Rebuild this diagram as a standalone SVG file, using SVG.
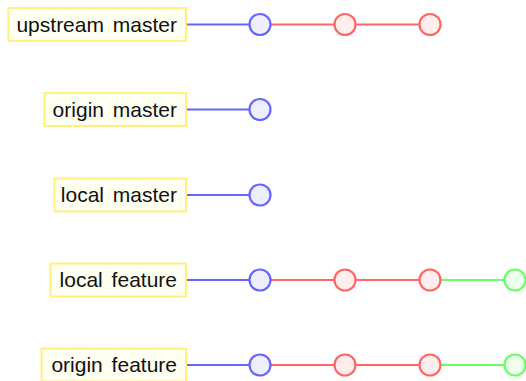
<svg xmlns="http://www.w3.org/2000/svg" width="526" height="381" viewBox="0 0 526 381">
  <style>
    .label rect { fill: #fffff2; stroke: #fff080; stroke-width: 2; }
    .label text { font-family: "Liberation Sans", Arial, sans-serif; font-size: 21px; word-spacing: 3px; fill: #111; text-anchor: end; }
    .edge { stroke-width: 2; fill: none; }
    .blue { stroke: #6666ff; }
    .red { stroke: #ff6666; }
    .green { stroke: #66ff66; }
    .commit { stroke-width: 2.2; }
    .c-blue { fill: #eeeeff; stroke: #6666ff; }
    .c-red { fill: #ffeeee; stroke: #ff6666; }
    .c-green { fill: #eeffee; stroke: #66ff66; }
  </style>

  <!-- connectors: branch label to first commit, then commit to commit -->
  <g id="connectors">
    <line class="edge blue" x1="187" y1="24.5" x2="260" y2="24.5"/>
    <line class="edge red" x1="260" y1="24.5" x2="430" y2="24.5"/>

    <line class="edge blue" x1="187" y1="109.5" x2="260" y2="109.5"/>

    <line class="edge blue" x1="187" y1="195" x2="260" y2="195"/>

    <line class="edge blue" x1="187" y1="280" x2="260" y2="280"/>
    <line class="edge red" x1="260" y1="280" x2="430" y2="280"/>
    <line class="edge green" x1="430" y1="280" x2="515" y2="280"/>

    <line class="edge blue" x1="187" y1="365" x2="260" y2="365"/>
    <line class="edge red" x1="260" y1="365" x2="430" y2="365"/>
    <line class="edge green" x1="430" y1="365" x2="515" y2="365"/>
  </g>

  <!-- branch labels -->
  <g id="upstream-master" class="label">
    <rect x="8.5" y="8" width="177.5" height="33"/>
    <text x="177" y="31.5">upstream master</text>
  </g>
  <g id="origin-master" class="label">
    <rect x="44.5" y="93" width="141.5" height="33"/>
    <text x="177" y="116.5">origin master</text>
  </g>
  <g id="local-master" class="label">
    <rect x="54.5" y="178.5" width="131.5" height="33"/>
    <text x="177" y="202">local master</text>
  </g>
  <g id="local-feature" class="label">
    <rect x="50.5" y="263.5" width="135.5" height="33"/>
    <text x="177" y="287">local feature</text>
  </g>
  <g id="origin-feature" class="label">
    <rect x="41.5" y="348.5" width="144.5" height="33"/>
    <text x="177" y="372">origin feature</text>
  </g>

  <!-- commits -->
  <g id="upstream-master-commits">
    <circle class="commit c-blue" cx="260" cy="24.5" r="10.5"/>
    <circle class="commit c-red" cx="345" cy="24.5" r="10.5"/>
    <circle class="commit c-red" cx="430" cy="24.5" r="10.5"/>
  </g>
  <g id="origin-master-commits">
    <circle class="commit c-blue" cx="260" cy="109.5" r="10.5"/>
  </g>
  <g id="local-master-commits">
    <circle class="commit c-blue" cx="260" cy="195" r="10.5"/>
  </g>
  <g id="local-feature-commits">
    <circle class="commit c-blue" cx="260" cy="280" r="10.5"/>
    <circle class="commit c-red" cx="345" cy="280" r="10.5"/>
    <circle class="commit c-red" cx="430" cy="280" r="10.5"/>
    <circle class="commit c-green" cx="515" cy="280" r="10.5"/>
  </g>
  <g id="origin-feature-commits">
    <circle class="commit c-blue" cx="260" cy="365" r="10.5"/>
    <circle class="commit c-red" cx="345" cy="365" r="10.5"/>
    <circle class="commit c-red" cx="430" cy="365" r="10.5"/>
    <circle class="commit c-green" cx="515" cy="365" r="10.5"/>
  </g>
</svg>
